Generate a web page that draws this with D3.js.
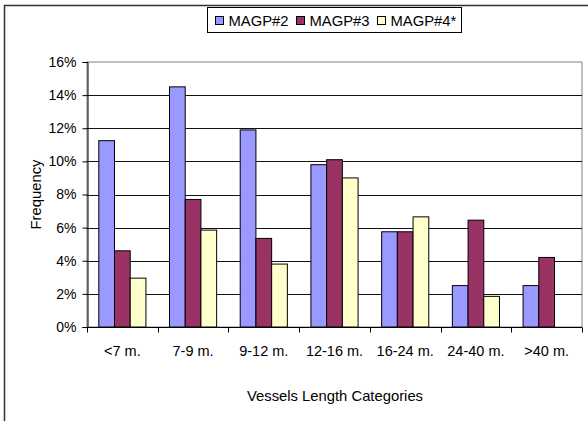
<!DOCTYPE html>
<html>
<head>
<meta charset="utf-8">
<script src="https://cdn.jsdelivr.net/npm/d3@7"></script>
<style>
  html, body { margin: 0; padding: 0; background: #fff; }
  svg { display: block; font-family: "Liberation Sans", Arial, sans-serif; }
</style>
</head>
<body>
<svg id="chart" width="588" height="421"></svg>
<script>
// Vessel length categories and share of vessels per MAGP period
const categories = ["<7 m.", "7-9 m.", "9-12 m.", "12-16 m.", "16-24 m.", "24-40 m.", ">40 m."];
const seriesNames = ["MAGP#2", "MAGP#3", "MAGP#4*"];
const magp2 = [11.25, 14.5, 11.9, 9.8, 5.75, 2.5, 2.5];
const magp3 = [4.6, 7.7, 5.35, 10.1, 5.75, 6.45, 4.2];
const magp4 = [2.95, 5.85, 3.8, 9.0, 6.65, 1.85, null];
const yTicks = [0, 2, 4, 6, 8, 10, 12, 14, 16];
const colors = ["#9999FF", "#993366", "#FFFFCC"];

const seriesValues = [magp2, magp3, magp4];

const svg = d3.select("#chart");

// Outer chart frame
svg.append("rect")
  .attr("x", 4.5).attr("y", 5.5)
  .attr("width", 600).attr("height", 440)
  .attr("fill", "none").attr("stroke", "#333").attr("stroke-width", 1.5);

const plot = { left: 87, right: 582, top: 62, bottom: 327 };

const x = d3.scaleBand()
  .domain(categories)
  .range([plot.left, plot.right])
  .paddingInner(0).paddingOuter(0);

const xInner = d3.scaleBand()
  .domain(seriesNames)
  .range([0, x.bandwidth()])
  .paddingInner(0)
  .paddingOuter(0.75);

const y = d3.scaleLinear().domain([0, 16]).range([plot.bottom, plot.top]);

// Plot area border (top and right) and gridlines
svg.append("rect")
  .attr("x", plot.left).attr("y", plot.top)
  .attr("width", plot.right - plot.left).attr("height", plot.bottom - plot.top)
  .attr("fill", "none").attr("stroke", "#808080").attr("stroke-width", 1);

svg.append("g")
  .selectAll("line")
  .data(yTicks.filter(t => t > 0 && t < 16))
  .join("line")
  .attr("x1", plot.left).attr("x2", plot.right)
  .attr("y1", d => Math.round(y(d)) + 0.5).attr("y2", d => Math.round(y(d)) + 0.5)
  .attr("stroke", "#111").attr("stroke-width", 1);

// Bars
const groups = svg.append("g")
  .selectAll("g")
  .data(categories)
  .join("g")
  .attr("transform", d => `translate(${x(d)},0)`);

groups.selectAll("rect")
  .data((c, i) => seriesNames.map((s, j) => ({ s, j, v: seriesValues[j][i] })).filter(d => d.v != null))
  .join("rect")
  .attr("x", d => xInner(d.s))
  .attr("y", d => y(d.v))
  .attr("width", xInner.bandwidth())
  .attr("height", d => y(0) - y(d.v))
  .attr("fill", d => colors[d.j])
  .attr("stroke", "#000").attr("stroke-width", 1);

// Y axis
const yAxis = d3.axisLeft(y)
  .tickValues(yTicks)
  .tickFormat(d => d + "%")
  .tickSize(5)
  .tickPadding(6);

const gy = svg.append("g")
  .attr("transform", `translate(${plot.left + 0.5},0)`)
  .call(yAxis);
gy.select(".domain").attr("stroke", "#000");
gy.selectAll(".tick line").attr("stroke", "#000");
gy.selectAll(".tick text")
  .attr("font-size", 14).attr("fill", "#000")
  .attr("font-family", "Liberation Sans, Arial, sans-serif");

// X axis with ticks on category boundaries
const gx = svg.append("g")
  .attr("transform", `translate(0,${plot.bottom + 0.5})`);
gx.append("line")
  .attr("x1", plot.left).attr("x2", plot.right)
  .attr("stroke", "#000");
gx.selectAll("line.tk")
  .data(categories.concat(["end"]))
  .join("line")
  .attr("class", "tk")
  .attr("x1", (d, i) => Math.round(plot.left + i * x.bandwidth()) + 0.5)
  .attr("x2", (d, i) => Math.round(plot.left + i * x.bandwidth()) + 0.5)
  .attr("y1", 0).attr("y2", 5)
  .attr("stroke", "#000");
gx.selectAll("text")
  .data(categories)
  .join("text")
  .attr("x", d => x(d) + x.bandwidth() / 2)
  .attr("y", 28)
  .attr("text-anchor", "middle")
  .attr("font-size", 14.5)
  .text(d => d);

// Axis titles
svg.append("text")
  .attr("x", 335)
  .attr("y", 401)
  .attr("text-anchor", "middle")
  .attr("font-size", 14.8)
  .text("Vessels Length Categories");

svg.append("text")
  .attr("transform", `translate(41,${(plot.top + plot.bottom) / 2}) rotate(-90)`)
  .attr("text-anchor", "middle")
  .attr("font-size", 14.8)
  .text("Frequency");

// Legend
const legend = svg.append("g").attr("transform", "translate(207.5,7.5)");
legend.append("rect")
  .attr("width", 254).attr("height", 25)
  .attr("fill", "#fff").attr("stroke", "#000").attr("stroke-width", 1);
const legendX = [8, 89, 170];
const items = legend.selectAll("g.item")
  .data(seriesNames)
  .join("g")
  .attr("class", "item")
  .attr("transform", (d, i) => `translate(${legendX[i]},0)`);
items.append("rect")
  .attr("x", 0).attr("y", 9)
  .attr("width", 8).attr("height", 8)
  .attr("fill", (d, i) => colors[i])
  .attr("stroke", "#000").attr("stroke-width", 1);
items.append("text")
  .attr("x", 13).attr("y", 18.5)
  .attr("font-size", 14.8)
  .text(d => d);
</script>
</body>
</html>
